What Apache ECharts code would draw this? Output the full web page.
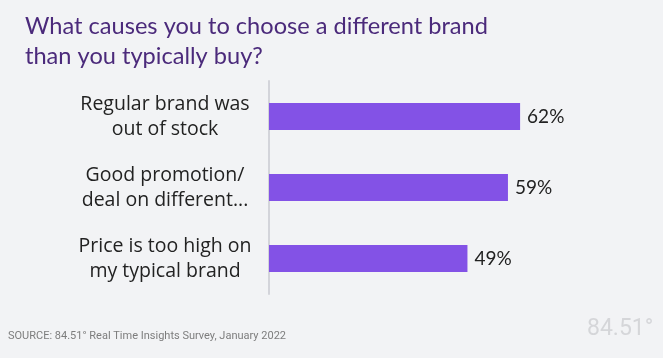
<!DOCTYPE html>
<html><head><meta charset="utf-8">
<script src="https://cdn.jsdelivr.net/npm/echarts@6/dist/echarts.min.js"></script>
<style>html,body{margin:0;padding:0;background:#f2f3f5}#c{width:663px;height:358px}</style>
</head><body><div id="c"></div>
<script>
const categories = ["Regular brand was\nout of stock", "Good promotion/\ndeal on different...", "Price is too high on\nmy typical brand"];
const values = [62, 59, 49];
const titleText = "What causes you to choose a different brand\nthan you typically buy?";
const sourceText = "SOURCE: 84.51° Real Time Insights Survey, January 2022";
const logoText = "84.51°";

const chart = echarts.init(document.getElementById('c'));
chart.setOption({
  backgroundColor: '#f2f3f5',
  animation: false,
  title: [{
    text: titleText, left: 25, top: 11, padding: 0,
    textStyle: {color: '#4b2a7b', fontSize: 23.6, fontWeight: 'normal', fontFamily: 'Lato', lineHeight: 30}
  }, {
    text: sourceText, left: 8, top: 331, padding: 0,
    textStyle: {color: '#7d7d7d', fontSize: 11, fontWeight: 'normal', fontFamily: 'Roboto'}
  }, {
    text: logoText, left: 587, top: 318, padding: 0,
    textStyle: {color: '#d5d6d9', fontSize: 23, fontWeight: 'normal', fontFamily: 'Roboto'}
  }],
  grid: {left: 269, right: 70, top: 81, bottom: 64},
  xAxis: {type: 'value', min: 0, max: 80, show: false},
  yAxis: {
    type: 'category', data: categories, inverse: true,
    axisLine: {show: true, lineStyle: {color: '#d3d4da', width: 2}},
    axisTick: {show: false},
    axisLabel: {color: '#222', fontSize: 19.5, fontFamily: 'Open Sans', lineHeight: 25, align: 'center', margin: 104}
  },
  series: [{
    type: 'bar', data: values, barWidth: 27,
    itemStyle: {color: '#8352e6'},
    label: {show: true, position: 'right', distance: 7, formatter: '{c}%', color: '#222', fontSize: 19, fontFamily: 'Lato'}
  }]
});
</script></body></html>
